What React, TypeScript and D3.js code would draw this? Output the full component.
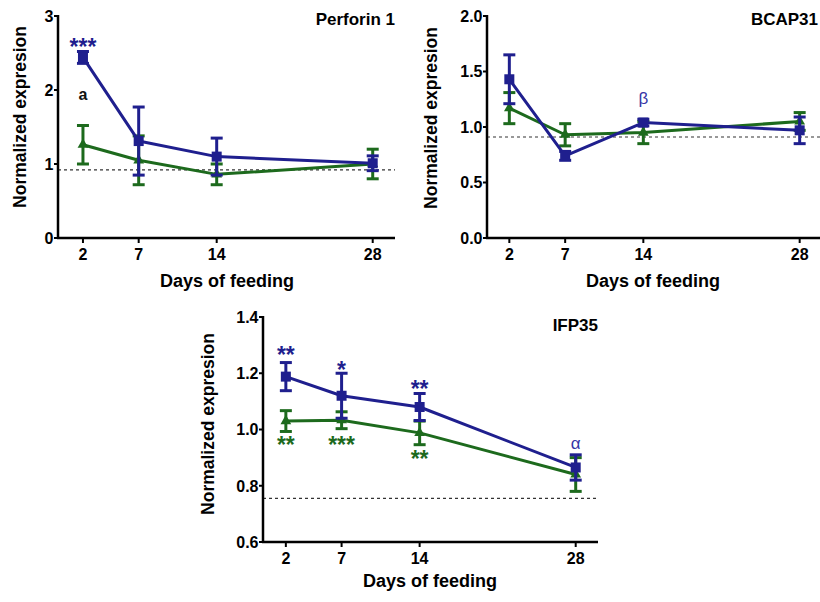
import React from 'react';
import * as d3 from 'd3';

const days = [2, 7, 14, 28];

// Perforin 1
const perforinBlue = [2.44, 1.31, 1.1, 1.01];
const perforinBlueErr = [0.08, 0.46, 0.25, 0.1];
const perforinGreen = [1.26, 1.05, 0.86, 1.0];
const perforinGreenErr = [0.26, 0.33, 0.14, 0.2];
const perforinTicks = [0, 1, 2, 3];
const perforinRef = 0.92;

// BCAP31
const bcapBlue = [1.43, 0.74, 1.04, 0.97];
const bcapBlueErr = [0.22, 0.04, 0.03, 0.12];
const bcapGreen = [1.17, 0.93, 0.95, 1.05];
const bcapGreenErr = [0.14, 0.1, 0.1, 0.08];
const bcapTicks = [0, 0.5, 1.0, 1.5, 2.0];
const bcapRef = 0.91;

// IFP35
const ifpBlue = [1.188, 1.12, 1.08, 0.865];
const ifpBlueErr = [0.05, 0.08, 0.048, 0.045];
const ifpGreen = [1.03, 1.033, 0.988, 0.84];
const ifpGreenErr = [0.037, 0.03, 0.042, 0.06];
const ifpTicks = [0.6, 0.8, 1.0, 1.2, 1.4];
const ifpRef = 0.755;

const BLUE = '#1f1f8e';
const GREEN = '#1d6a1d';
const LIGHT_BLUE = '#3535a6';
const FONT = '"Liberation Sans", Arial, sans-serif';

interface Annot {
  day: number;
  value: number; // baseline position in data units
  text: string;
  color: string;
  size: number;
  bold?: boolean;
}

const perforinNotes: Annot[] = [
  { day: 2, value: 2.47, text: '***', color: BLUE, size: 23, bold: true },
  { day: 2, value: 1.865, text: 'a', color: '#111', size: 16, bold: true },
];
const bcapNotes: Annot[] = [
  { day: 14, value: 1.204, text: 'β', color: LIGHT_BLUE, size: 17 },
];
const ifpNotes: Annot[] = [
  { day: 2, value: 1.235, text: '**', color: BLUE, size: 23, bold: true },
  { day: 7, value: 1.184, text: '*', color: BLUE, size: 23, bold: true },
  { day: 14, value: 1.117, text: '**', color: BLUE, size: 23, bold: true },
  { day: 28, value: 0.93, text: 'α', color: LIGHT_BLUE, size: 17 },
  { day: 2, value: 0.916, text: '**', color: GREEN, size: 23, bold: true },
  { day: 7, value: 0.916, text: '***', color: GREEN, size: 23, bold: true },
  { day: 14, value: 0.865, text: '**', color: GREEN, size: 23, bold: true },
];

interface PanelProps {
  title: string;
  left: number;
  right: number;
  top: number;
  bottom: number;
  xDomain: [number, number];
  yDomain: [number, number];
  yTicks: number[];
  fmt: (v: number) => string;
  blue: number[];
  blueErr: number[];
  green: number[];
  greenErr: number[];
  refLine: number;
  notes: Annot[];
  titleX: number;
  titleY: number;
  yLabelX: number;
  yLabelY: number;
  xLabelX: number;
  xLabelY: number;
}

const Panel: React.FC<PanelProps> = (p) => {
  const x = d3.scaleLinear().domain(p.xDomain).range([p.left, p.right]);
  const y = d3.scaleLinear().domain(p.yDomain).range([p.bottom, p.top]);
  const line = d3.line<number>().x((_, i) => x(days[i])).y(d => y(d));
  const tri = d3.symbol().type(d3.symbolTriangle).size(50)() || '';

  const series = [
    { vals: p.green, errs: p.greenErr, color: GREEN, shape: 'tri' },
    { vals: p.blue, errs: p.blueErr, color: BLUE, shape: 'sq' },
  ];

  return (
    <g fontFamily={FONT}>
      {/* reference line */}
      <line x1={p.left} x2={p.right} y1={y(p.refLine)} y2={y(p.refLine)}
        stroke="#333" strokeWidth={1.2} strokeDasharray="3,3" />

      {/* series */}
      {series.map((s, si) => (
        <g key={si}>
          <path d={line(s.vals) || ''} fill="none" stroke={s.color} strokeWidth={3} strokeLinejoin="round" />
          {s.vals.map((v, i) => {
            const cx = x(days[i]);
            const y1 = y(v + s.errs[i]);
            const y2 = y(v - s.errs[i]);
            return (
              <g key={i}>
                <line x1={cx} x2={cx} y1={y1} y2={y2} stroke={s.color} strokeWidth={3} />
                <line x1={cx - 6} x2={cx + 6} y1={y1} y2={y1} stroke={s.color} strokeWidth={3} />
                <line x1={cx - 6} x2={cx + 6} y1={y2} y2={y2} stroke={s.color} strokeWidth={3} />
                {s.shape === 'sq'
                  ? <rect x={cx - 5} y={y(v) - 5} width={10} height={10} fill={s.color} />
                  : <path d={tri} transform={`translate(${cx},${y(v)})`} fill={s.color} />}
              </g>
            );
          })}
        </g>
      ))}

      {/* axes */}
      <line x1={p.left} x2={p.left} y1={p.top - 1} y2={p.bottom} stroke="#000" strokeWidth={2.5} />
      <line x1={p.left - 1} x2={p.right} y1={p.bottom} y2={p.bottom} stroke="#000" strokeWidth={2.5} />
      {p.yTicks.map((t, i) => (
        <g key={i}>
          <line x1={p.left - 4} x2={p.left} y1={y(t)} y2={y(t)} stroke="#000" strokeWidth={2} />
          <text x={p.left - 4.5} y={y(t)} dy="0.36em" textAnchor="end" fontSize={16} fontWeight="bold">
            {p.fmt(t)}
          </text>
        </g>
      ))}
      {days.map((d, i) => (
        <g key={i}>
          <line x1={x(d)} x2={x(d)} y1={p.bottom} y2={p.bottom + 5} stroke="#000" strokeWidth={2} />
          <text x={x(d)} y={p.bottom + 22} textAnchor="middle" fontSize={16} fontWeight="bold">{d}</text>
        </g>
      ))}

      {/* annotations */}
      {p.notes.map((n, i) => (
        <text key={i} x={x(n.day)} y={y(n.value)} textAnchor="middle" fontSize={n.size}
          fontWeight={n.bold ? 'bold' : 'normal'} fill={n.color}>{n.text}</text>
      ))}

      {/* labels */}
      <text x={p.titleX} y={p.titleY} textAnchor="end" fontSize={17} fontWeight="bold">{p.title}</text>
      <text transform={`translate(${p.yLabelX},${p.yLabelY}) rotate(-90)`} textAnchor="middle"
        fontSize={17.5} fontWeight="bold">Normalized expresion</text>
      <text x={p.xLabelX} y={p.xLabelY} textAnchor="middle" fontSize={18} fontWeight="bold">Days of feeding</text>
    </g>
  );
};

const App: React.FC = () => (
  <div style={{ position: 'absolute', left: 0, top: 0 }}>
    <svg width={820} height={602} style={{ display: 'block', background: '#fff' }}>
      <Panel title="Perforin 1" left={58} right={395} top={16} bottom={238}
        xDomain={[-0.24, 30]} yDomain={[0, 3]} yTicks={perforinTicks} fmt={d3.format('d')}
        blue={perforinBlue} blueErr={perforinBlueErr} green={perforinGreen} greenErr={perforinGreenErr}
        refLine={perforinRef} notes={perforinNotes}
        titleX={395} titleY={25} yLabelX={25.5} yLabelY={117} xLabelX={227} xLabelY={287} />
      <Panel title="BCAP31" left={487} right={822} top={16} bottom={238}
        xDomain={[0, 30]} yDomain={[0, 2]} yTicks={bcapTicks} fmt={d3.format('.1f')}
        blue={bcapBlue} blueErr={bcapBlueErr} green={bcapGreen} greenErr={bcapGreenErr}
        refLine={bcapRef} notes={bcapNotes}
        titleX={818} titleY={25} yLabelX={437} yLabelY={118} xLabelX={653} xLabelY={287} />
      <Panel title="IFP35" left={263} right={598} top={317} bottom={542}
        xDomain={[-0.05, 30]} yDomain={[0.6, 1.4]} yTicks={ifpTicks} fmt={d3.format('.1f')}
        blue={ifpBlue} blueErr={ifpBlueErr} green={ifpGreen} greenErr={ifpGreenErr}
        refLine={ifpRef} notes={ifpNotes}
        titleX={598} titleY={331} yLabelX={214} yLabelY={424} xLabelX={430} xLabelY={587} />
    </svg>
  </div>
);

export default App;
